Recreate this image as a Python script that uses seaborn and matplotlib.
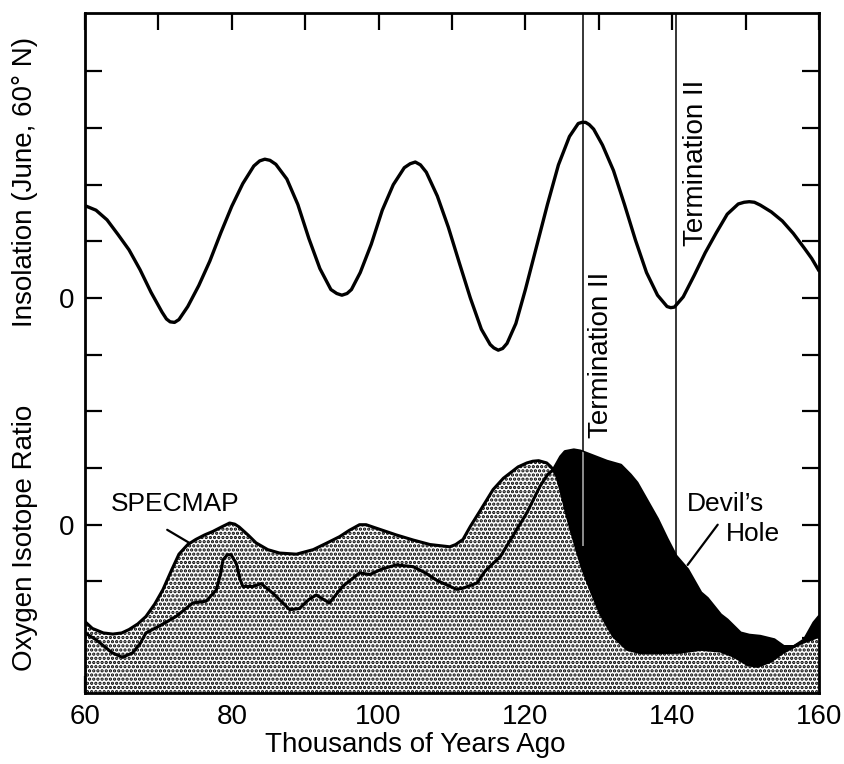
import numpy as np
import pandas as pd
import matplotlib
matplotlib.use("Agg")
import matplotlib.pyplot as plt
import seaborn as sns

# ---------------- data ----------------
insol_kyr = [60, 61.5, 63, 64.5, 66, 67.5, 69, 70.5, 71.1, 71.6, 72.2, 72.8, 74, 75.5, 77, 78.5,
             80, 81.5, 83, 83.8, 84.5, 85.2, 86, 87.5, 89, 90.5, 92, 93.5, 94.3, 95, 95.7, 96.3,
             97.5, 99, 100.5, 102, 103.5, 104.3, 105, 105.7, 106.5, 108, 109.5, 111, 112.5, 114,
             115.2, 115.7, 116.3, 116.9, 117.5, 118.7, 120, 121.5, 123, 124.5, 126, 127.2, 127.7,
             128.2, 128.7, 129.3, 130.5, 132, 133.5, 135, 136.5, 138, 139.3, 139.8, 140.3, 141.5,
             143, 144.5, 146, 147.5, 149, 149.8, 150.5, 151.2, 152, 153.5, 155, 156.5, 158, 159,
             160]
insol_val = [8.63, 8.55, 8.38, 8.12, 7.85, 7.50, 7.10, 6.75, 6.63, 6.58, 6.57, 6.62, 6.85, 7.22,
             7.65, 8.15, 8.62, 9.02, 9.33, 9.42, 9.45, 9.43, 9.36, 9.10, 8.65, 8.05, 7.52, 7.15,
             7.08, 7.05, 7.08, 7.15, 7.45, 7.95, 8.55, 9.00, 9.30, 9.37, 9.40, 9.35, 9.22, 8.80,
             8.25, 7.62, 7.00, 6.45, 6.18, 6.12, 6.08, 6.11, 6.20, 6.55, 7.15, 7.90, 8.65, 9.35,
             9.85, 10.08, 10.10, 10.10, 10.06, 9.98, 9.70, 9.25, 8.65, 8.02, 7.45, 7.05, 6.85,
             6.83, 6.84, 7.02, 7.40, 7.80, 8.15, 8.48, 8.66, 8.69, 8.70, 8.69, 8.64, 8.52, 8.36,
             8.14, 7.88, 7.70, 7.48]

specmap_kyr = [60, 61, 62.5, 63.8, 65, 66, 67.2, 68.3, 69.5, 70.6, 71.8, 72.8, 74, 75.1, 76.3,
               77.4, 78.6, 79.7, 80.4, 81, 82.2, 83.3, 84.9, 86.5, 88.8, 91.1, 93, 94.7, 96,
               97.4, 98.3, 99.2, 100.8, 102.4, 104.7, 107, 109.7, 110.5, 111.5, 112.5, 113.8,
               115.6, 117, 117.9, 119, 120.2, 121, 121.8, 122.9, 123.4, 123.8, 124.3, 124.8,
               125.7, 126.6, 127.7, 128.9, 130.2, 132, 133.9, 135.7, 138.4, 141, 143.9, 146.6,
               148.4, 150.3, 151.6, 153.4, 155, 156.6, 157.5, 160]
specmap_val = [1.29, 1.17, 1.09, 1.07, 1.09, 1.15, 1.25, 1.38, 1.60, 1.85, 2.20, 2.48, 2.65,
               2.74, 2.82, 2.88, 2.96, 3.03, 3.01, 2.96, 2.82, 2.68, 2.56, 2.50, 2.48, 2.56,
               2.68, 2.79, 2.90, 3.00, 3.00, 2.96, 2.89, 2.82, 2.73, 2.65, 2.61, 2.65, 2.74,
               2.97, 3.24, 3.62, 3.82, 3.91, 4.02, 4.09, 4.12, 4.13, 4.09, 4.03, 3.97, 3.85,
               3.62, 3.15, 2.74, 2.26, 1.85, 1.44, 1.03, 0.80, 0.74, 0.74, 0.75, 0.80, 0.77,
               0.68, 0.53, 0.50, 0.59, 0.74, 0.85, 0.91, 1.03]

devils_kyr = [60, 61.5, 63.7, 65.1, 66.5, 67.5, 68.3, 70.1, 72.4, 74.7, 76.5, 77.9, 78.5, 78.8,
              79.4, 79.9, 80.6, 81.1, 81.5, 82.9, 84, 85.6, 87.9, 89.2, 90.5, 91.5, 92.5, 93.3,
              95.1, 97.4, 98.8, 100.5, 102.4, 104.7, 106.5, 107.9, 110.6, 111.5, 113.4, 114.5,
              116.6, 118.8, 120.2, 122, 123, 123.8, 124.8, 125.4, 126.6, 127.5, 128.9, 131.1,
              133, 134.3, 135.2, 136.6, 138, 139.3, 140.5, 142.1, 143.9, 144.8, 146.6, 147.5,
              149.3, 150.5, 152, 153.9, 155.2, 156.6, 158, 159.3, 160]
devils_val = [1.09, 0.97, 0.74, 0.66, 0.74, 0.90, 1.09, 1.21, 1.38, 1.62, 1.65, 1.85, 2.15, 2.38,
              2.47, 2.47, 2.32, 2.05, 1.91, 1.91, 1.96, 1.79, 1.50, 1.52, 1.68, 1.76, 1.68, 1.62,
              1.91, 2.15, 2.12, 2.22, 2.29, 2.26, 2.14, 2.02, 1.86, 1.88, 1.97, 2.18, 2.44, 2.91,
              3.21, 3.68, 3.88, 3.97, 4.20, 4.29, 4.32, 4.30, 4.23, 4.12, 4.05, 3.88, 3.74, 3.42,
              3.10, 2.75, 2.45, 2.21, 1.80, 1.70, 1.41, 1.32, 1.09, 1.05, 1.03, 0.97, 0.85, 0.85,
              0.97, 1.27, 1.38]

termination_kyr = [127.8, 140.5]
termination_bottom = [2.62, 2.45]

x_major = [60, 80, 100, 120, 140, 160]
x_minor = [70, 90, 110, 130, 150]
y_ticks = [1, 2, 3, 4, 5, 6, 7, 8, 9, 10, 11]
y_ticklabels = ["", "", "0", "", "", "", "0", "", "", "", ""]

# ---------------- style ----------------
sns.set_style("ticks")
plt.rcParams['font.family'] = ['Liberation Sans', 'DejaVu Sans']
plt.rcParams['text.color'] = 'black'
plt.rcParams['axes.labelcolor'] = 'black'
plt.rcParams['xtick.color'] = 'black'
plt.rcParams['ytick.color'] = 'black'
plt.rcParams['axes.edgecolor'] = 'black'
plt.rcParams['hatch.color'] = 'black'
plt.rcParams['hatch.linewidth'] = 1.6

fig = plt.figure(figsize=(8.45, 7.64), dpi=100)
ax = fig.add_axes([85 / 845, 1 - 693 / 764, (819 - 85) / 845, (693 - 13) / 764])

ins = pd.DataFrame({"kyr": insol_kyr, "val": insol_val})
spm = pd.DataFrame({"kyr": specmap_kyr, "val": specmap_val})
dvh = pd.DataFrame({"kyr": devils_kyr, "val": devils_val})

LW = 2.2

# stippled SPECMAP area
ax.fill_between(spm["kyr"], -1, spm["val"], facecolor="white", edgecolor="black",
                hatch="....", linewidth=0, zorder=1)
sns.lineplot(data=spm, x="kyr", y="val", color="black", lw=LW, estimator=None,
             ax=ax, zorder=2, solid_joinstyle="round")

# black area where Devil's Hole lies above SPECMAP
def black_region(lo, hi):
    dsel = dvh[(dvh.kyr >= lo) & (dvh.kyr <= hi)]
    ssel = spm[(spm.kyr >= lo) & (spm.kyr <= hi)].iloc[::-1]
    xs = np.concatenate([dsel.kyr.values, ssel.kyr.values])
    ys = np.concatenate([dsel.val.values, ssel.val.values])
    return ax.fill(xs, ys, color="black", lw=0, zorder=3)[0]

poly1 = black_region(123.8, 156.6)
black_region(156.6, 160)

sns.lineplot(data=dvh, x="kyr", y="val", color="black", lw=LW, estimator=None,
             ax=ax, zorder=4, solid_joinstyle="round")

# insolation curve
sns.lineplot(data=ins, x="kyr", y="val", color="black", lw=2.4, estimator=None,
             ax=ax, zorder=4, solid_joinstyle="round")

# termination lines
ymax = 12.03
for xk, yb in zip(termination_kyr, termination_bottom):
    ax.vlines(xk, yb, ymax, color="black", lw=1.1, zorder=5)
light = ax.vlines(termination_kyr[0], termination_bottom[0], ymax, color="0.7", lw=1.1, zorder=6)
light.set_clip_path(poly1)

# texts
fs = 20
ax.text(130.35, 6.0, "Termination II", rotation=90, ha="center", va="center", fontsize=fs)
ax.text(143.3, 9.38, "Termination II", rotation=90, ha="center", va="center", fontsize=fs)
ax.text(72.3, 3.36, "SPECMAP", ha="center", va="center", fontsize=19)
ax.plot([71.2, 74.2], [2.91, 2.68], color="black", lw=1.6, zorder=5)
ax.text(147.2, 3.37, "Devil\u2019s", ha="center", va="center", fontsize=19)
ax.text(151.0, 2.84, "Hole", ha="center", va="center", fontsize=19)
ax.plot([146.2, 142.1], [3.0, 2.29], color="black", lw=1.6, zorder=5)

# axes
ax.set_xlim(60, 160)
ax.set_ylim(0.03, ymax)
ax.set_xticks(x_major)
ax.set_xticks(x_minor, minor=True)
ax.set_xticklabels([str(v) for v in x_major])
ax.set_yticks(y_ticks)
ax.set_yticklabels(y_ticklabels)
ax.tick_params(which="both", direction="in", length=12, width=1.6, top=True, right=True,
               labelsize=fs, pad=8, colors="black")
for s in ax.spines.values():
    s.set_linewidth(2.0)
    s.set_zorder(10)
ax.set_xlabel("")
ax.set_ylabel("")

ax.text(-0.082, 9.05, "Insolation (June, 60\u00b0 N)", rotation=90, ha="center", va="center",
        fontsize=fs, transform=ax.get_yaxis_transform())
ax.text(-0.082, 2.77, "Oxygen Isotope Ratio", rotation=90, ha="center", va="center",
        fontsize=fs, transform=ax.get_yaxis_transform())
fig.text(415 / 845, 1 - 745 / 764, "Thousands of Years Ago", ha="center", va="center",
         fontsize=fs)

fig.savefig("out.png", dpi=100)
